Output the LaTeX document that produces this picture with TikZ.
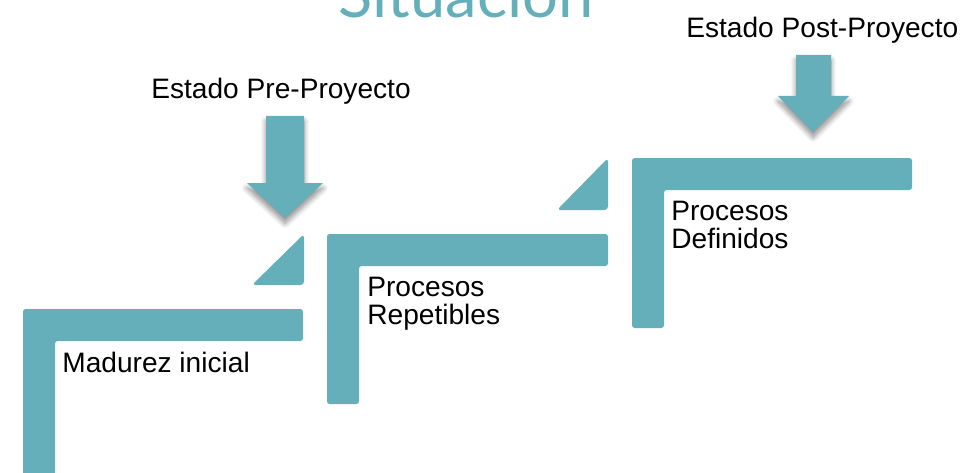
\documentclass[tikz,border=0pt]{standalone}
\usepackage{fontspec}
\setmainfont{Liberation Sans}
\newfontfamily\titlefont{Lato}
\usetikzlibrary{positioning,shadows.blur}

\definecolor{stairteal}{HTML}{64AFBA}

\begin{document}
\begin{tikzpicture}[
    x=0.02cm,y=-0.02cm,
    stair/.style={fill=stairteal,rounded corners=1.5pt},
    wedge/.style={fill=stairteal,rounded corners=2pt},
    bigarrow/.style={fill=stairteal,blur shadow={shadow xshift=0pt,shadow yshift=-3pt,shadow blur steps=8,shadow opacity=45,shadow blur radius=3pt}},
    label/.style={anchor=base west,inner sep=0pt,align=left,font=\fontsize{16}{15.7}\selectfont},
    title/.style={anchor=base,inner sep=0pt,text=stairteal,font=\titlefont\fontsize{36}{40}\selectfont}
]
\useasboundingbox (0,0) rectangle (963,473);

% Title (cut at the top)
\node[title] (situacion) at (466,18) {Situación};

% Step 1 - Madurez inicial
\fill[stair] (23,480) -- (23,309) -- (303,309) -- (303,341) -- (55,341) -- (55,480) -- cycle;
\node[label] (madurez) at (62,372) {Madurez inicial};

% Step 2 - Procesos Repetibles
\fill[wedge] (252,285) -- (304,234) -- (304,285) -- cycle;
\fill[stair] (327,404) -- (327,234) -- (608,234) -- (608,266) -- (359,266) -- (359,404) -- cycle;
\node[label] (repetibles) at (367,324) {Procesos\\Repetibles};

% Step 3 - Procesos Definidos
\fill[wedge] (557,210) -- (608,158) -- (608,210) -- cycle;
\fill[stair] (632,328) -- (632,158) -- (912,158) -- (912,190) -- (664,190) -- (664,328) -- cycle;
\node[label] (definidos) at (671,248) {Procesos\\Definidos};

% Pre-Proyecto marker
\node[label] (pre) at (151,98) {Estado Pre-Proyecto};
\fill[bigarrow] (266,116) -- (304,116) -- (304,183) -- (323,183) -- (285,218) -- (247,183) -- (266,183) -- cycle;

% Post-Proyecto marker
\node[label] (post) at (686,38) {Estado Post-Proyecto};
\fill[bigarrow] (796,55) -- (831,55) -- (831,96) -- (849,96) -- (813,132) -- (778,96) -- (796,96) -- cycle;

\end{tikzpicture}
\end{document}
